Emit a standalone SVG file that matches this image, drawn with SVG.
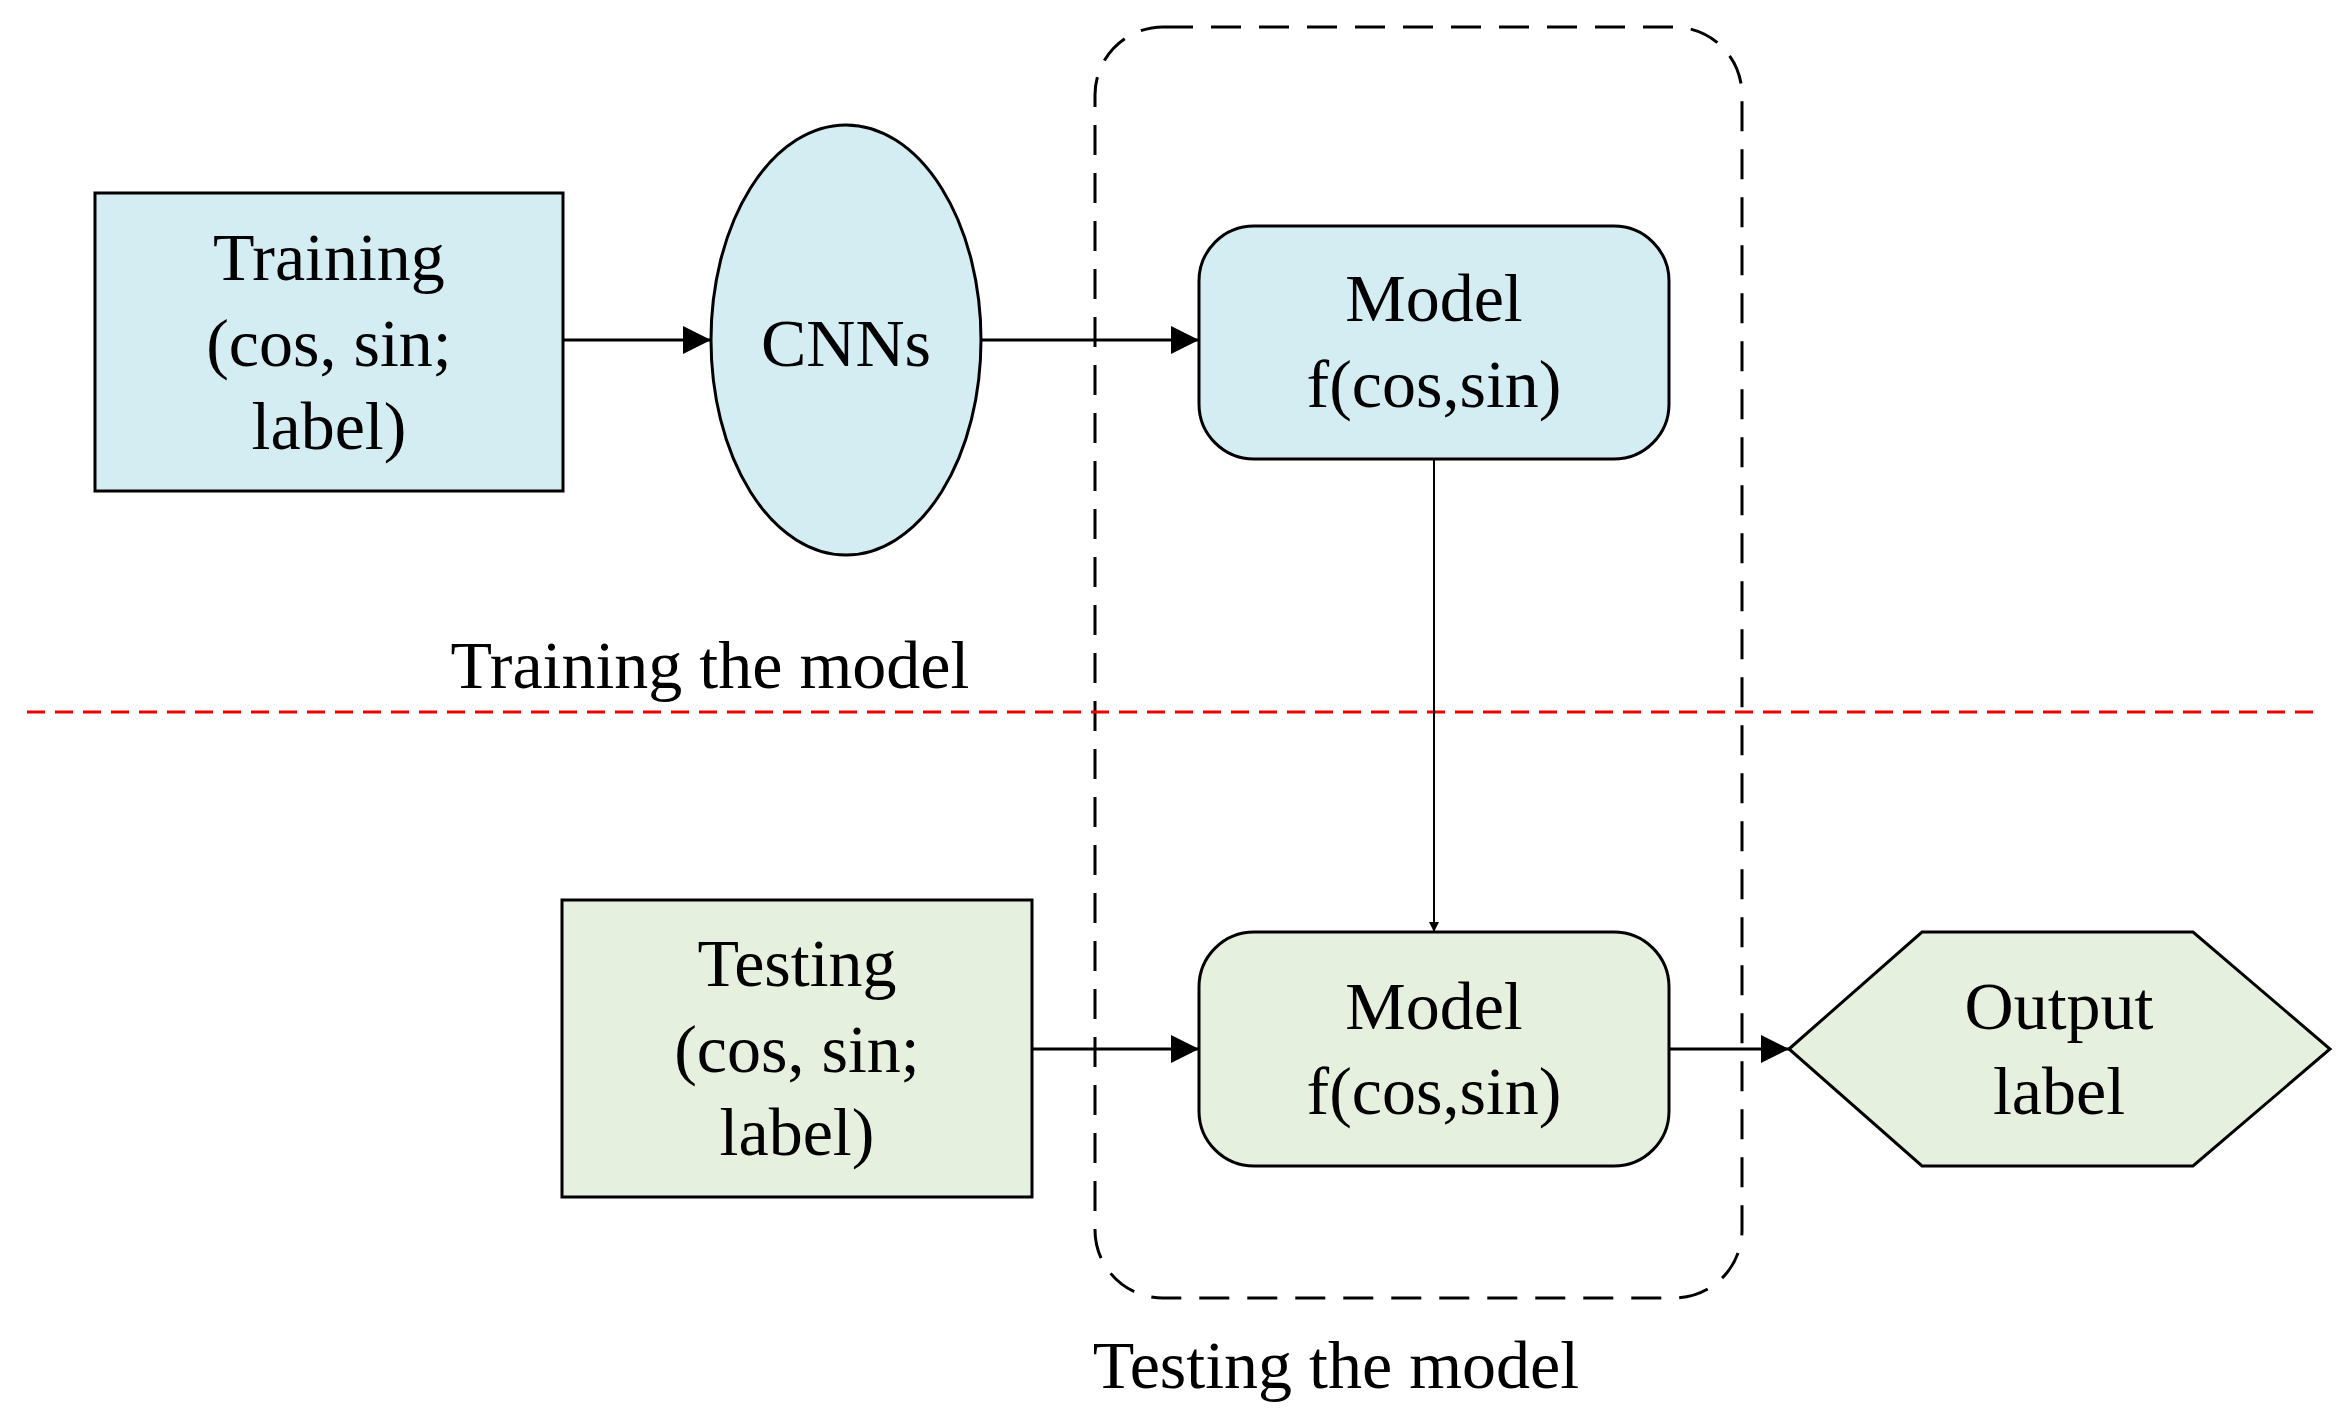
<svg xmlns="http://www.w3.org/2000/svg" width="2350" height="1423" viewBox="0 0 2350 1423">
<style>
text{font-family:"Liberation Serif","Times New Roman",serif;font-size:68px;fill:#000;text-anchor:middle}
.n{stroke:#000;stroke-width:3}
.blue{fill:#d4edf2}.green{fill:#e6f0de}
.c{stroke:#000;stroke-width:3;fill:none}
</style>
<defs><marker id="a" viewBox="0 0 10 10" refX="10" refY="5" markerWidth="10" markerHeight="10" markerUnits="userSpaceOnUse" orient="auto"><path d="M0,0L10,5L0,10z" fill="#000"/></marker>
<marker id="b" viewBox="0 0 10 10" refX="10" refY="5" markerWidth="28" markerHeight="28" markerUnits="userSpaceOnUse" orient="auto"><path d="M0,0L10,5L0,10z" fill="#000"/></marker></defs>
<rect width="2350" height="1423" fill="#fff"/>
<rect id="container" x="1095" y="27" width="647" height="1271" rx="68" fill="none" stroke="#000" stroke-width="3" stroke-dasharray="30,18"/>
<line x1="27" y1="712" x2="2319" y2="712" stroke="#e00" stroke-width="3" stroke-dasharray="18,10"/>
<g id="training"><rect class="n blue" x="95" y="193" width="468" height="298"/><text x="329" y="280">Training</text><text x="329" y="366">(cos, sin;</text><text x="329" y="449">label)</text></g>
<g id="cnns"><ellipse class="n blue" cx="846" cy="340" rx="135" ry="215"/><text x="846" y="366">CNNs</text></g>
<g id="model1"><rect class="n blue" x="1199" y="226" width="470" height="233" rx="55"/><text x="1434" y="321">Model</text><text x="1434" y="407">f(cos,sin)</text></g>
<g id="testing"><rect class="n green" x="562" y="900" width="470" height="297"/><text x="797" y="986">Testing</text><text x="797" y="1072">(cos, sin;</text><text x="797" y="1155">label)</text></g>
<g id="model2"><rect class="n green" x="1199" y="932" width="470" height="234" rx="55"/><text x="1434" y="1029">Model</text><text x="1434" y="1114">f(cos,sin)</text></g>
<g id="output"><polygon class="n green" points="1789,1049 1922,932 2193,932 2330,1049 2193,1166 1922,1166"/><text x="2059" y="1029">Output</text><text x="2059" y="1114">label</text></g>
<text x="710" y="688">Training the model</text>
<text x="1336" y="1388">Testing the model</text>
<g id="connectors">
<line class="c" x1="563" y1="340" x2="711" y2="340" marker-end="url(#b)"/>
<line class="c" x1="981" y1="340" x2="1199" y2="340" marker-end="url(#b)"/>
<line class="c" x1="1032" y1="1049" x2="1199" y2="1049" marker-end="url(#b)"/>
<line class="c" x1="1669" y1="1049" x2="1789" y2="1049" marker-end="url(#b)"/>
<line x1="1434" y1="459" x2="1434" y2="932" stroke="#000" stroke-width="2" marker-end="url(#a)"/>
</g>
</svg>
